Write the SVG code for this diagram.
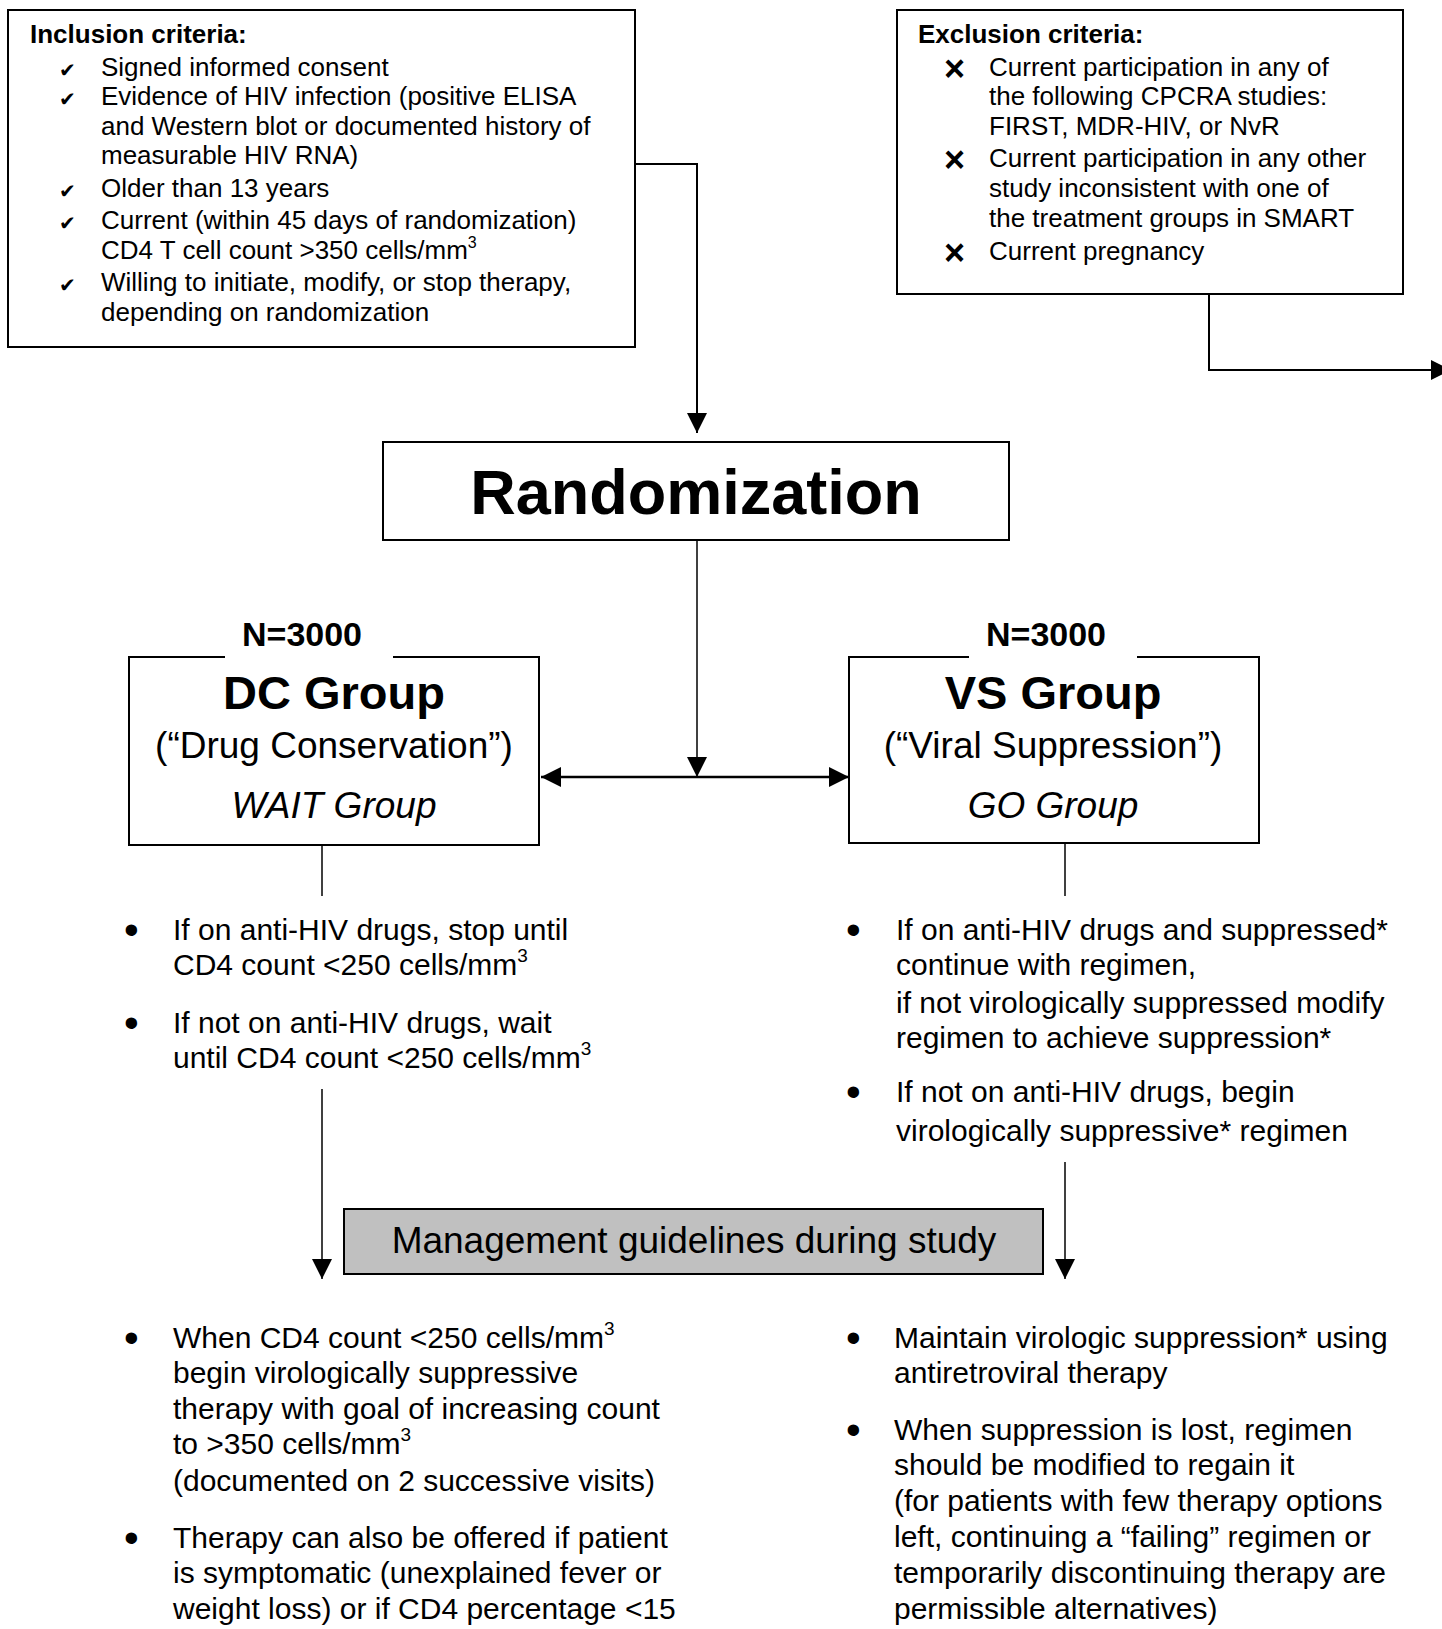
<svg xmlns="http://www.w3.org/2000/svg" width="1442" height="1629" viewBox="0 0 1442 1629">
<defs>
<style>
text{font-family:"Liberation Sans",Arial,sans-serif;fill:#000}
.box{fill:#fff;stroke:#000;stroke-width:2}
.gray{fill:#c0c0c0;stroke:#000;stroke-width:2}
.hd{font-size:26px;font-weight:bold}
.sm{font-size:26px}
.mk{font-family:"DejaVu Sans",sans-serif;font-size:20px}
.xm{font-size:36px;font-weight:bold}
.dot{font-size:42px}
.bl{font-size:30px}
.c{text-anchor:middle}
.ln{fill:none;stroke:#000;stroke-width:2}
.thin{fill:none;stroke:#000;stroke-width:1.5}
</style>
<marker id="ah" viewBox="0 0 20 20" refX="20" refY="10" markerWidth="20" markerHeight="20" orient="auto-start-reverse" markerUnits="userSpaceOnUse"><path d="M0,0 L20,10 L0,20 z" fill="#000"/></marker>
</defs>
<rect width="1442" height="1629" fill="#fff"/>

<g id="connectors">
<polyline class="ln" points="635,164 697,164 697,433" marker-end="url(#ah)"/>
<polyline class="ln" points="1209,294 1209,370 1451,370" marker-end="url(#ah)"/>
<line class="thin" x1="697" y1="540" x2="697" y2="777" marker-end="url(#ah)"/>
<line x1="541" y1="777" x2="849" y2="777" stroke="#000" stroke-width="2.5" marker-start="url(#ah)" marker-end="url(#ah)"/>
<line class="thin" x1="322" y1="845" x2="322" y2="896"/>
<line class="thin" x1="1065" y1="843" x2="1065" y2="896"/>
<line class="thin" x1="322" y1="1089" x2="322" y2="1279" marker-end="url(#ah)"/>
<line class="thin" x1="1065" y1="1162" x2="1065" y2="1279" marker-end="url(#ah)"/>
</g>

<g id="inclusion">
<rect class="box" x="8" y="10" width="627" height="337"/>
<text class="hd" x="30" y="43">Inclusion criteria:</text>
<text class="mk" x="59" y="77">✔</text>
<text class="sm" x="101" y="76">Signed informed consent</text>
<text class="mk" x="59" y="106">✔</text>
<text class="sm" x="101" y="105">Evidence of HIV infection (positive ELISA</text>
<text class="sm" x="101" y="135">and Western blot or documented history of</text>
<text class="sm" x="101" y="164">measurable HIV RNA)</text>
<text class="mk" x="59" y="198">✔</text>
<text class="sm" x="101" y="197">Older than 13 years</text>
<text class="mk" x="59" y="230">✔</text>
<text class="sm" x="101" y="229">Current (within 45 days of randomization)</text>
<text class="sm" x="101" y="259">CD4 T cell count &gt;350 cells/mm<tspan dy="-11" font-size="16">3</tspan></text>
<text class="mk" x="59" y="292">✔</text>
<text class="sm" x="101" y="291">Willing to initiate, modify, or stop therapy,</text>
<text class="sm" x="101" y="321">depending on randomization</text>
</g>

<g id="exclusion">
<rect class="box" x="897" y="10" width="506" height="284"/>
<text class="hd" x="918" y="43">Exclusion criteria:</text>
<text class="xm" x="944" y="81">×</text>
<text class="sm" x="989" y="76">Current participation in any of</text>
<text class="sm" x="989" y="105">the following CPCRA studies:</text>
<text class="sm" x="989" y="135">FIRST, MDR-HIV, or NvR</text>
<text class="xm" x="944" y="172">×</text>
<text class="sm" x="989" y="167">Current participation in any other</text>
<text class="sm" x="989" y="197">study inconsistent with one of</text>
<text class="sm" x="989" y="227">the treatment groups in SMART</text>
<text class="xm" x="944" y="265">×</text>
<text class="sm" x="989" y="260">Current pregnancy</text>
</g>

<g id="randomization">
<rect class="box" x="383" y="442" width="626" height="98"/>
<text class="c" x="696" y="514" font-size="63" font-weight="bold">Randomization</text>
</g>

<g id="dc-group">
<rect class="box" x="129" y="657" width="410" height="188"/>
<rect x="225" y="620" width="168" height="40" fill="#fff"/>
<text class="c" x="302" y="646" font-size="34" font-weight="bold">N=3000</text>
<text class="c" x="334" y="709" font-size="47" font-weight="bold">DC Group</text>
<text class="c" x="334" y="758" font-size="37">(“Drug Conservation”)</text>
<text class="c" x="334" y="818" font-size="37" font-style="italic">WAIT Group</text>
</g>

<g id="vs-group">
<rect class="box" x="849" y="657" width="410" height="186"/>
<rect x="969" y="620" width="168" height="40" fill="#fff"/>
<text class="c" x="1046" y="646" font-size="34" font-weight="bold">N=3000</text>
<text class="c" x="1053" y="709" font-size="47" font-weight="bold">VS Group</text>
<text class="c" x="1053" y="758" font-size="37">(“Viral Suppression”)</text>
<text class="c" x="1053" y="818" font-size="37" font-style="italic">GO Group</text>
</g>

<g id="dc-initial">
<text class="dot" x="124" y="944">•</text>
<text class="bl" x="173" y="940">If on anti-HIV drugs, stop until</text>
<text class="bl" x="173" y="975">CD4 count &lt;250 cells/mm<tspan dy="-13" font-size="19">3</tspan></text>
<text class="dot" x="124" y="1037">•</text>
<text class="bl" x="173" y="1033">If not on anti-HIV drugs, wait</text>
<text class="bl" x="173" y="1068">until CD4 count &lt;250 cells/mm<tspan dy="-13" font-size="19">3</tspan></text>
</g>

<g id="vs-initial">
<text class="dot" x="846" y="944">•</text>
<text class="bl" x="896" y="940">If on anti-HIV drugs and suppressed*</text>
<text class="bl" x="896" y="975">continue with regimen,</text>
<text class="bl" x="896" y="1013">if not virologically suppressed modify</text>
<text class="bl" x="896" y="1048">regimen to achieve suppression*</text>
<text class="dot" x="846" y="1106">•</text>
<text class="bl" x="896" y="1102">If not on anti-HIV drugs, begin</text>
<text class="bl" x="896" y="1141">virologically suppressive* regimen</text>
</g>

<g id="management">
<rect class="gray" x="344" y="1209" width="699" height="65"/>
<text class="c" x="694" y="1253" font-size="37">Management guidelines during study</text>
</g>

<g id="dc-guidelines">
<text class="dot" x="124" y="1352">•</text>
<text class="bl" x="173" y="1348">When CD4 count &lt;250 cells/mm<tspan dy="-13" font-size="19">3</tspan></text>
<text class="bl" x="173" y="1383">begin virologically suppressive</text>
<text class="bl" x="173" y="1419">therapy with goal of increasing count</text>
<text class="bl" x="173" y="1454">to &gt;350 cells/mm<tspan dy="-13" font-size="19">3</tspan></text>
<text class="bl" x="173" y="1491">(documented on 2 successive visits)</text>
<text class="dot" x="124" y="1552">•</text>
<text class="bl" x="173" y="1548">Therapy can also be offered if patient</text>
<text class="bl" x="173" y="1583">is symptomatic (unexplained fever or</text>
<text class="bl" x="173" y="1619">weight loss) or if CD4 percentage &lt;15</text>
</g>

<g id="vs-guidelines">
<text class="dot" x="846" y="1352">•</text>
<text class="bl" x="894" y="1348">Maintain virologic suppression* using</text>
<text class="bl" x="894" y="1383">antiretroviral therapy</text>
<text class="dot" x="846" y="1444">•</text>
<text class="bl" x="894" y="1440">When suppression is lost, regimen</text>
<text class="bl" x="894" y="1475">should be modified to regain it</text>
<text class="bl" x="894" y="1511">(for patients with few therapy options</text>
<text class="bl" x="894" y="1547">left, continuing a “failing” regimen or</text>
<text class="bl" x="894" y="1583">temporarily discontinuing therapy are</text>
<text class="bl" x="894" y="1619">permissible alternatives)</text>
</g>
</svg>
